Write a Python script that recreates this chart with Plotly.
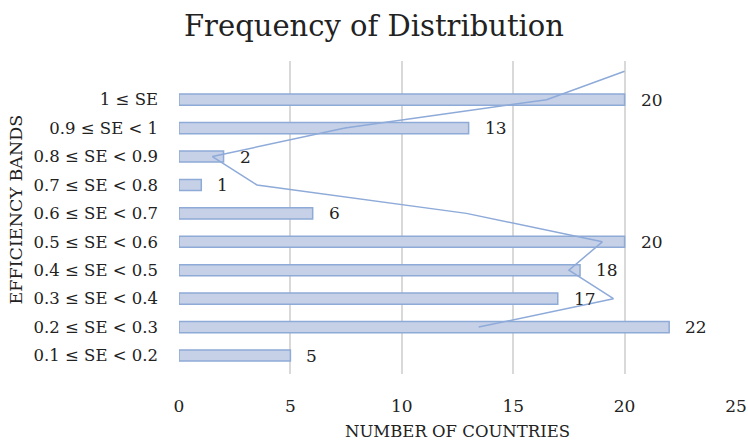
import plotly.graph_objects as go

# Efficiency bands (bottom to top) and number of countries in each
bands = [
    "0.1 ≤ SE < 0.2", "0.2 ≤ SE < 0.3", "0.3 ≤ SE < 0.4", "0.4 ≤ SE < 0.5",
    "0.5 ≤ SE < 0.6", "0.6 ≤ SE < 0.7", "0.7 ≤ SE < 0.8", "0.8 ≤ SE < 0.9",
    "0.9 ≤ SE < 1", "1 ≤ SE",
]
countries = [5, 22, 17, 18, 20, 6, 1, 2, 13, 20]

# Overlay line series (drawn one band higher than the bars)
line_positions = [1, 2, 3, 4, 5, 6, 7, 8, 9, 10]
line_values = [13.45, 19.5, 17.5, 19.0, 12.9, 3.5, 1.5, 7.45, 16.5, 20.0]

x_ticks = [0, 5, 10, 15, 20, 25]

FONT = "DejaVu Serif"
TXT = "#222222"
ypos = list(range(len(bands)))

fig = go.Figure()
fig.add_trace(go.Bar(
    x=countries, y=ypos, orientation="h", width=0.39,
    marker=dict(color="#c6d1e8", line=dict(color="#8eaad6", width=1.5)),
    hoverinfo="skip",
))
fig.add_trace(go.Scatter(
    x=line_values, y=line_positions, mode="lines",
    line=dict(color="#8eaad9", width=1.5),
    hoverinfo="skip",
))

# value labels to the right of each bar
for yv, v in zip(ypos, countries):
    fig.add_annotation(
        x=v, y=yv, text=str(v), showarrow=False,
        xanchor="left", yanchor="middle", xshift=14,
        font=dict(family=FONT, size=17, color=TXT),
    )

# axis titles
fig.add_annotation(
    xref="paper", yref="paper", x=0.5, y=-0.183, xanchor="center", yanchor="middle",
    text="NUMBER OF COUNTRIES", showarrow=False,
    font=dict(family=FONT, size=16.5, color=TXT),
)
fig.add_annotation(
    xref="paper", yref="paper", x=-0.292, y=0.527, xanchor="center", yanchor="middle",
    text="EFFICIENCY BANDS", showarrow=False, textangle=-90,
    font=dict(family=FONT, size=17.5, color=TXT),
)

fig.update_layout(
    width=748, height=443,
    margin=dict(l=179, r=12, t=61, b=69),
    paper_bgcolor="white", plot_bgcolor="white",
    showlegend=False,
    title=dict(
        text="Frequency of Distribution", x=0.5, xanchor="center",
        y=0.942, yanchor="middle",
        font=dict(family=FONT, size=29, color=TXT),
    ),
    xaxis=dict(
        range=[0, 25], tickvals=x_ticks, ticktext=[str(t) for t in x_ticks],
        showgrid=True, gridcolor="#d9d9d9", gridwidth=1.5,
        zeroline=False, showline=False, ticks="", automargin=False,
        ticklabelstandoff=20,
        tickfont=dict(family=FONT, size=17, color=TXT),
    ),
    yaxis=dict(
        range=[-0.65, 10.36], tickvals=ypos, ticktext=bands,
        showgrid=False, zeroline=False, showline=False, ticks="",
        automargin=False, ticklabelstandoff=20,
        tickfont=dict(family=FONT, size=16.5, color=TXT),
    ),
)

fig.write_html("out.html")
